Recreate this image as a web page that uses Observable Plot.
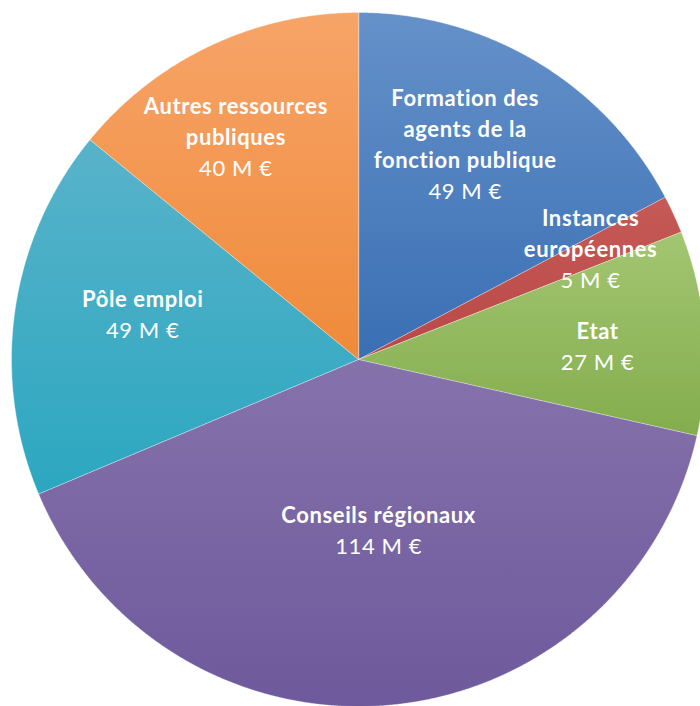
<!DOCTYPE html>
<html>
<head>
<meta charset="utf-8">
<script src="https://cdn.jsdelivr.net/npm/d3@7"></script>
<script src="https://cdn.jsdelivr.net/npm/@observablehq/plot@0.6"></script>
<style>
  html, body { margin: 0; padding: 0; background: #fff; }
  #chart svg { display: block; }
  #chart svg text { letter-spacing: 0.6px; }
</style>
</head>
<body>
<div id="chart"></div>
<script>
// ---- data ----
const categories = [
  "Formation des agents de la fonction publique",
  "Instances européennes",
  "Etat",
  "Conseils régionaux",
  "Pôle emploi",
  "Autres ressources publiques"
];
const labelLines = [
  ["Formation des", "agents de la", "fonction publique"],
  ["Instances", "européennes"],
  ["Etat"],
  ["Conseils régionaux"],
  ["Pôle emploi"],
  ["Autres ressources", "publiques"]
];
const values = [49, 5, 27, 114, 49, 40];
const valueLabels = ["49 M €", "5 M €", "27 M €", "114 M €", "49 M €", "40 M €"];

// ---- styles ----
const colorTop    = ["#6591c9", "#c65a57", "#a3c672", "#8672ab", "#58b3ca", "#f7a468"];
const colorBottom = ["#3a6fb4", "#b84845", "#83ad4d", "#6e599c", "#2ca7c0", "#ef8a3a"];
// label placement: [radius fraction, angle shift in degrees]
const labelPlace = [[0.69, -4.6], [0.74, -0.6], [0.69, 1.5], [0.50, -1.6], [0.635, 3.4], [0.73, -3.6]];

const W = 700, H = 706;
const R = 347, CX = 358, CY = 359;
const lineStep = 31 / R;

const arcs = d3.pie().sort(null).value(d => d)(values);

const slicePts = arcs.map((a, i) => {
  const pts = [{x: 0, y: 0}];
  const n = Math.max(2, Math.ceil((a.endAngle - a.startAngle) / 0.004));
  for (let k = 0; k <= n; k++) {
    const t = a.startAngle + (a.endAngle - a.startAngle) * k / n;
    pts.push({x: Math.sin(t), y: Math.cos(t)});
  }
  return pts;
});

const textRows = [];
arcs.forEach((a, i) => {
  const [rf, shift] = labelPlace[i];
  const m = (a.startAngle + a.endAngle) / 2 + shift * Math.PI / 180;
  const cx = rf * Math.sin(m), cy = rf * Math.cos(m);
  const lines = labelLines[i].map(t => ({t, bold: true})).concat([{t: valueLabels[i], bold: false}]);
  const L = lines.length;
  lines.forEach((ln, j) => {
    textRows.push({x: cx, y: cy - (j - (L - 1) / 2) * lineStep, text: ln.t, bold: ln.bold});
  });
});

const font = "Lato, 'Open Sans', sans-serif";

const marks = slicePts.map((pts, i) =>
  Plot.line(pts, {x: "x", y: "y", curve: "linear-closed", fill: `url(#grad${i})`, stroke: "#ffffff", strokeWidth: 0.6, strokeOpacity: 0.6})
);
marks.push(Plot.text(textRows.filter(d => d.bold), {x: "x", y: "y", text: "text", fill: "white", fontWeight: "bold", fontSize: 22, fontFamily: font}));
marks.push(Plot.text(textRows.filter(d => !d.bold), {x: "x", y: "y", text: "text", fill: "white", fontWeight: "normal", fontSize: 22, fontFamily: font}));

const svg = Plot.plot({
  width: W,
  height: H,
  margin: 0,
  x: {domain: [-1, 1], range: [CX - R, CX + R], axis: null},
  y: {domain: [-1, 1], range: [CY + R, CY - R], axis: null},
  style: {background: "white", fontFamily: font},
  marks
});

const defs = d3.select(svg).insert("defs", ":first-child");
colorTop.forEach((c, i) => {
  const g = defs.append("linearGradient").attr("id", `grad${i}`).attr("x1", 0).attr("y1", 0).attr("x2", 0).attr("y2", 1);
  g.append("stop").attr("offset", "0%").attr("stop-color", c);
  g.append("stop").attr("offset", "100%").attr("stop-color", colorBottom[i]);
});

document.getElementById("chart").appendChild(svg);
</script>
</body>
</html>
